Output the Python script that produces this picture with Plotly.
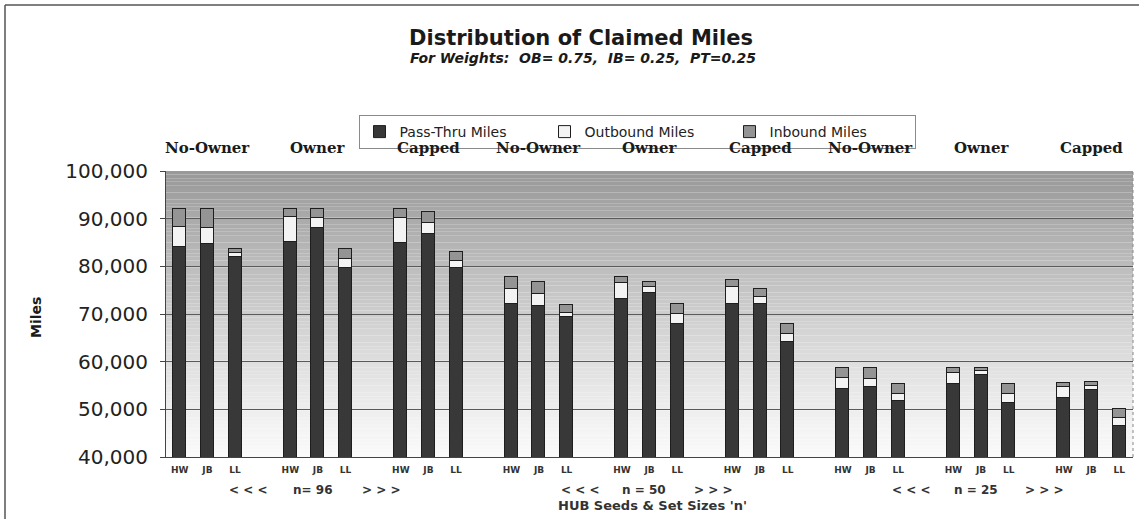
import plotly.graph_objects as go

# ---- data -------------------------------------------------------------
set_sizes = ["n= 96", "n = 50", "n = 25"]
methods = ["No-Owner", "Owner", "Capped"]
hubs = ["HW", "JB", "LL"]

# miles per bar, ordered: set size -> method -> hub seed
pass_thru = [84000, 84700, 82000, 85200, 88100, 79700, 84800, 86700, 79600,
             72100, 71700, 69400, 73100, 74400, 68000, 72100, 72100, 64200,
             54200, 54600, 51800, 55300, 57300, 51400, 52300, 54000, 46500]
outbound = [4200, 3300, 800, 5100, 2000, 1800, 5400, 2300, 1500,
            3100, 2400, 900, 3500, 1200, 1900, 3600, 1500, 1700,
            2300, 1700, 1500, 2400, 700, 1800, 2400, 900, 1600]
inbound = [3800, 4000, 800, 1700, 1900, 2100, 1800, 2500, 2000,
           2500, 2700, 1600, 1100, 1200, 2100, 1400, 1600, 1900,
           2100, 2300, 2000, 900, 600, 2100, 900, 900, 2000]

y_ticks = [40000, 50000, 60000, 70000, 80000, 90000, 100000]

# ---- layout helpers -----------------------------------------------------
W, H = 1139, 519
L, R, T, B = 166, 6, 171, 62
PW, PH = W - L - R, H - T - B


def px_x(px):
    return (px - L) / PW


def px_y(py):
    return (H - B - py) / PH


# category slots: three bars per method group, one empty slot between groups
n_groups = len(set_sizes) * len(methods)
xpos = [g * 4 + j for g in range(n_groups) for j in range(len(hubs))]
xlabels = ["<b>" + h + "</b>" for g in range(n_groups) for h in hubs]

fig = go.Figure()
series = [
    ("Pass-Thru Miles", pass_thru, "#383838"),
    ("Outbound Miles", outbound, "#f3f3f3"),
    ("Inbound Miles", inbound, "#949494"),
]
for name, vals, col in series:
    fig.add_trace(go.Bar(
        x=xpos, y=vals, name=name, width=0.47,
        marker=dict(color=col, line=dict(color="#1e1e1e", width=1)),
    ))

# gradient plot-area background (dark at top, fading to white)
shapes = []
bands = 80
y0, y1 = y_ticks[0], y_ticks[-1]
for i in range(bands):
    t = (i + 0.5) / bands
    g = int(round(250 - 98 * t ** 1.15))
    shapes.append(dict(
        type="rect", xref="paper", yref="y", layer="below",
        x0=0, x1=1,
        y0=y0 + (y1 - y0) * i / bands, y1=y0 + (y1 - y0) * (i + 1) / bands,
        fillcolor=f"rgb({g},{g},{g})", line=dict(width=0),
    ))
# outer frame (top and left edges)
shapes.append(dict(type="line", xref="paper", yref="paper",
                   x0=px_x(5), x1=px_x(W + 5), y0=px_y(5), y1=px_y(5),
                   line=dict(color="#555", width=1.5)))
shapes.append(dict(type="line", xref="paper", yref="paper",
                   x0=px_x(5), x1=px_x(5), y0=px_y(5), y1=px_y(H + 5),
                   line=dict(color="#555", width=1.5)))
# right edge of plot area
shapes.append(dict(type="line", xref="paper", yref="paper",
                   x0=1, x1=1, y0=0, y1=1,
                   line=dict(color="#888", width=1, dash="dot")))

annotations = []
# title and subtitle
annotations.append(dict(text="<b>Distribution of Claimed Miles</b>",
                        xref="paper", yref="paper", x=px_x(581), y=px_y(38),
                        showarrow=False, xanchor="center", yanchor="middle",
                        font=dict(family="DejaVu Sans", size=21, color="#1a1a1a")))
annotations.append(dict(text="<b><i>For Weights:  OB= 0.75,  IB= 0.25,  PT=0.25</i></b>",
                        xref="paper", yref="paper", x=px_x(583), y=px_y(58),
                        showarrow=False, xanchor="center", yanchor="middle",
                        font=dict(family="DejaVu Sans", size=14, color="#1a1a1a")))
# method headers above each group
for g in range(n_groups):
    annotations.append(dict(text="<b>" + methods[g % 3] + "</b>",
                            xref="x", yref="paper", x=g * 4 + 1, y=px_y(148),
                            showarrow=False, xanchor="center", yanchor="middle",
                            font=dict(family="DejaVu Serif", size=15, color="#1a1a1a")))
# set-size labels under each block of three groups
for s, lab in enumerate(set_sizes):
    c = s * 12 + 5
    for txt, off in (("< < <", -2.5), (lab, -0.2), ("> > >", 2.3)):
        annotations.append(dict(text="<b>" + txt + "</b>", xref="x", yref="paper",
                                x=c + off, y=px_y(490), showarrow=False,
                                xanchor="center", yanchor="middle",
                                font=dict(family="DejaVu Sans", size=12, color="#333")))
annotations.append(dict(text="<b>HUB Seeds & Set Sizes 'n'</b>",
                        xref="paper", yref="paper", x=px_x(652), y=px_y(505),
                        showarrow=False, xanchor="center", yanchor="middle",
                        font=dict(family="DejaVu Sans", size=13, color="#333")))
annotations.append(dict(text="<b>Miles</b>", textangle=-90,
                        xref="paper", yref="paper", x=px_x(36), y=px_y(318),
                        showarrow=False, xanchor="center", yanchor="middle",
                        font=dict(family="DejaVu Sans", size=14, color="#1a1a1a")))

fig.update_layout(
    width=W, height=H,
    margin=dict(l=L, r=R, t=T, b=B, autoexpand=False),
    paper_bgcolor="white", plot_bgcolor="white",
    barmode="stack", bargap=0,
    shapes=shapes, annotations=annotations,
    showlegend=True,
    legend=dict(orientation="h", x=px_x(637), y=px_y(132),
                xanchor="center", yanchor="middle",
                bordercolor="#8a8a8a", borderwidth=1, bgcolor="white",
                font=dict(family="DejaVu Sans", size=14, color="#222"),
                entrywidth=140, itemwidth=30, traceorder="normal"),
    xaxis=dict(range=[-0.5, xpos[-1] + 0.5], tickmode="array",
               tickvals=xpos, ticktext=xlabels, showgrid=False,
               showline=True, linecolor="#444", linewidth=1, ticks="",
               ticklabelstandoff=4,
               tickfont=dict(family="DejaVu Sans", size=9, color="#333"),
               zeroline=False, fixedrange=True),
    yaxis=dict(range=[y0, y1], tickmode="array", tickvals=y_ticks,
               tickformat=",", showgrid=True, gridcolor="#5a5a5a", gridwidth=1.2,
               showline=True, linecolor="#444", linewidth=1,
               ticks="outside", ticklen=5, tickcolor="#444",
               ticklabelstandoff=8,
               tickfont=dict(family="DejaVu Sans", size=20, color="#222"),
               zeroline=False, fixedrange=True),
)

fig.write_html("out.html")
